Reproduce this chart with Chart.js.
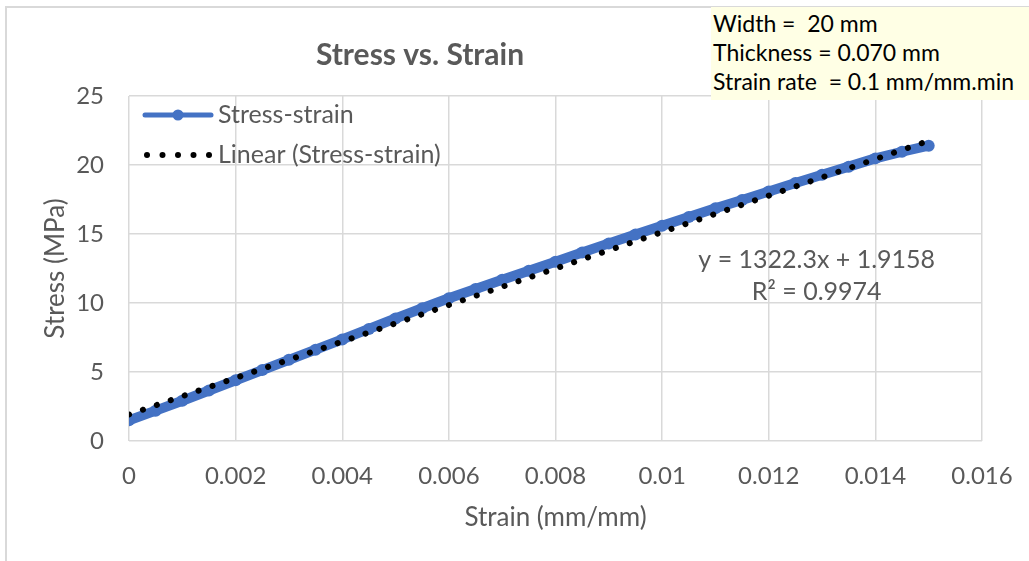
<!DOCTYPE html>
<html>
<head>
<meta charset="utf-8">
<script src="https://cdn.jsdelivr.net/npm/chart.js@4.4.1/dist/chart.umd.min.js"></script>
<style>
  html, body { margin: 0; padding: 0; background: #fff; overflow: hidden; }
  #wrap { position: relative; width: 1029px; height: 561px; }
  #frame { position: absolute; left: 5px; top: 6px; width: 1100px; height: 600px; border: 2px solid #d9d9d9; box-sizing: border-box; }
  #chart { position: absolute; left: 0; top: 0; }
  #note { position: absolute; left: 711px; top: 7px; width: 340px; height: 93px; background: #ffffe5;
          font-family: Lato, sans-serif; font-size: 23px; line-height: 29px; color: #000; padding: 2px 0 0 2px;
          box-sizing: border-box; white-space: pre; }
</style>
</head>
<body>
<div id="wrap">
  <div id="frame"></div>
  <canvas id="chart" width="1029" height="561"></canvas>
  <div id="note">Width =  20 mm
Thickness = 0.070 mm
Strain rate  = 0.1 mm/mm.min</div>
</div>
<script>
// values
const strain = [0, 0.0005, 0.001, 0.0015, 0.002, 0.0025, 0.003, 0.0035, 0.004, 0.0045,
  0.005, 0.0055, 0.006, 0.0065, 0.007, 0.0075, 0.008, 0.0085, 0.009, 0.0095,
  0.01, 0.0105, 0.011, 0.0115, 0.012, 0.0125, 0.013, 0.0135, 0.014, 0.0145, 0.015];
const stress = [1.50, 2.20, 2.92, 3.66, 4.40, 5.14, 5.88, 6.62, 7.36, 8.12,
  8.88, 9.62, 10.34, 11.02, 11.68, 12.34, 12.99, 13.66, 14.32, 14.96,
  15.60, 16.24, 16.86, 17.46, 18.08, 18.70, 19.30, 19.88, 20.48, 20.96, 21.40];
const trendStrain = [0, 0.015];
const trendStress = [1.92, 21.75];
const equation = ['y = 1322.3x + 1.9158', 'R\u00b2 = 0.9974'];
const xTicks = [0, 0.002, 0.004, 0.006, 0.008, 0.01, 0.012, 0.014, 0.016];
const yTicks = [0, 5, 10, 15, 20, 25];

const FONT = 'Lato, sans-serif';
const GREY = '#595959';
const BLUE = '#4472c4';

const overlay = {
  id: 'overlay',
  afterDraw(chart) {
    const { ctx, scales: { x }, chartArea } = chart;
    ctx.save();
    ctx.fillStyle = GREY;
    ctx.textBaseline = 'middle';

    // title
    ctx.font = 'bold 30px ' + FONT;
    ctx.textAlign = 'center';
    ctx.fillText('Stress vs. Strain', 420, 55);

    // axis titles
    ctx.font = '26px ' + FONT;
    ctx.fillText('Strain (mm/mm)', (chartArea.left + chartArea.right) / 2, 518);
    ctx.save();
    ctx.translate(56, (chartArea.top + chartArea.bottom) / 2);
    ctx.rotate(-Math.PI / 2);
    ctx.fillText('Stress (MPa)', 0, 0);
    ctx.restore();

    // trendline equation
    ctx.font = '25px ' + FONT;
    ctx.fillText(equation[0], x.getPixelForValue(0.0129), 260);
    ctx.fillText(equation[1], x.getPixelForValue(0.0129), 292);

    // legend inside plot
    const ds = chart.data.datasets;
    ctx.textAlign = 'left';
    const lx = 145, rows = [115, 155];
    ctx.strokeStyle = BLUE;
    ctx.lineWidth = 5;
    ctx.lineCap = 'round';
    ctx.beginPath();
    ctx.moveTo(lx, rows[0]);
    ctx.lineTo(lx + 66, rows[0]);
    ctx.stroke();
    ctx.fillStyle = BLUE;
    ctx.beginPath();
    ctx.arc(lx + 33, rows[0], 5.5, 0, Math.PI * 2);
    ctx.fill();
    ctx.fillStyle = '#000';
    for (let i = 0; i < 5; i++) {
      ctx.beginPath();
      ctx.arc(lx + 2 + i * 15.5, rows[1], 3, 0, Math.PI * 2);
      ctx.fill();
    }
    ctx.fillStyle = GREY;
    ctx.fillText(ds[1].label, lx + 73, rows[0]);
    ctx.fillText(ds[0].label, lx + 73, rows[1]);
    ctx.restore();
  }
};

new Chart(document.getElementById('chart'), {
  type: 'scatter',
  data: {
    datasets: [
      {
        label: 'Linear (Stress-strain)',
        data: trendStrain.map((v, i) => ({ x: v, y: trendStress[i] })),
        showLine: true,
        borderColor: '#000',
        borderWidth: 6,
        borderDash: [0.1, 14.6],
        borderCapStyle: 'round',
        pointRadius: 0,
        order: 0
      },
      {
        label: 'Stress-strain',
        data: strain.map((v, i) => ({ x: v, y: stress[i] })),
        showLine: true,
        borderColor: BLUE,
        backgroundColor: BLUE,
        borderWidth: 10,
        borderCapStyle: 'round',
        borderJoinStyle: 'round',
        pointRadius: 6,
        pointBorderWidth: 0,
        order: 1
      }
    ]
  },
  options: {
    responsive: false,
    animation: false,
    layout: { padding: { left: 0, top: 96, right: 47, bottom: 0 } },
    plugins: { legend: { display: false }, tooltip: { enabled: false } },
    scales: {
      x: {
        type: 'linear',
        min: 0, max: 0.016,
        afterBuildTicks: s => { s.ticks = xTicks.map(v => ({ value: v })); },
        afterFit: s => { s.height = 120; s.paddingRight = 0; s.paddingLeft = 0; },
        grid: { color: '#d9d9d9', lineWidth: 1.5, drawTicks: false },
        border: { display: false },
        ticks: {
          color: GREY, padding: 21, font: { family: FONT, size: 24 },
          callback: v => String(Number(v.toFixed(3)))
        }
      },
      y: {
        min: 0, max: 25,
        afterBuildTicks: s => { s.ticks = yTicks.map(v => ({ value: v })); },
        afterFit: s => { s.width = 129; },
        grid: { color: '#d9d9d9', lineWidth: 1.5, drawTicks: false },
        border: { display: false },
        ticks: { color: GREY, padding: 25, font: { family: FONT, size: 24 } }
      }
    }
  },
  plugins: [overlay]
});
</script>
</body>
</html>
